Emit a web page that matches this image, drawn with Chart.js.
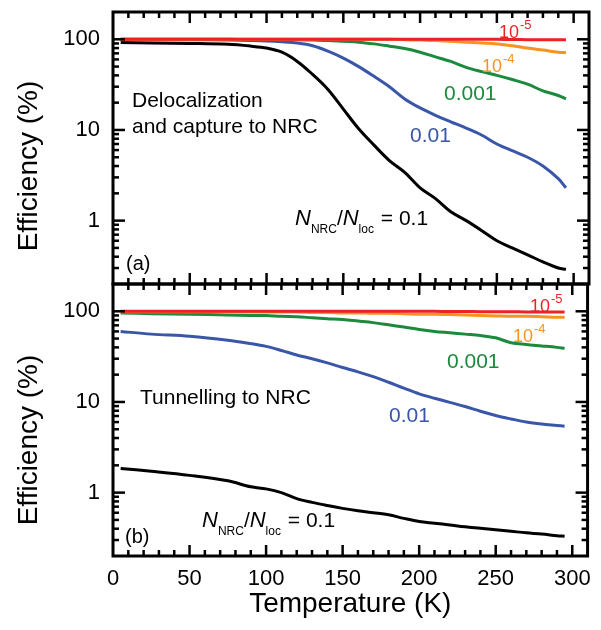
<!DOCTYPE html>
<html>
<head>
<meta charset="utf-8">
<script src="https://cdn.jsdelivr.net/npm/chart.js@4.4.1/dist/chart.umd.min.js"></script>
<style>
  body { margin: 0; background: #fff; }
  #wrap { position: relative; width: 601px; height: 630px; }
  #wrap canvas { position: absolute; left: 0; top: 0; }
</style>
</head>
<body>
<div id="wrap">
  <canvas id="chartA" width="601" height="630"></canvas>
  <canvas id="chartB" width="601" height="630"></canvas>
</div>
<script>
const FONT = '"Liberation Sans", Arial, sans-serif';

// temperature (K), shared by every curve
const temperature = [5, 25, 50, 75, 90, 100, 110, 120, 130, 140, 150, 160, 170, 180, 190, 200, 210, 220, 230, 240, 250, 260, 270, 280, 290, 295];

// (a) delocalization and capture to NRC, efficiency in %
const captureR5 = [100, 100, 100, 100, 100, 100, 100, 100, 100, 100, 100, 100, 100, 100, 100, 100, 100, 100, 100, 100, 100, 99.5, 99, 99, 99, 99];
const captureR4 = [100, 100, 100, 100, 100, 100, 100, 100, 100, 100, 100, 100, 100, 100, 99, 98, 97, 95, 93, 91, 89, 85, 80, 76, 72, 71];
const captureR3 = [100, 100, 100, 100, 99.5, 99.5, 99, 99, 98, 97, 95, 93, 89, 84, 79, 72, 64, 57, 49, 44, 40, 36, 32, 27, 24, 22];
const captureR2 = [99, 99, 99, 98, 97, 96, 94, 91, 85, 74, 62, 50, 39, 30, 22, 17.5, 14.5, 12.3, 10.5, 8.8, 7, 5.9, 5, 4, 2.9, 2.3];
const captureR1 = [92, 91, 90, 88, 84, 80, 72, 57, 41, 28, 17, 10.3, 6.8, 4.6, 3.4, 2.3, 1.75, 1.25, 1, 0.78, 0.6, 0.5, 0.42, 0.35, 0.3, 0.29];

// (b) tunnelling to NRC, efficiency in %
const tunnelR5 = [100, 100, 100, 100, 100, 100, 100, 100, 100, 100, 100, 100, 100, 100, 100, 100, 100, 99.5, 99.5, 99, 99, 99, 98.5, 98, 98, 98];
const tunnelR4 = [99, 99, 99, 99, 98, 98, 98, 98, 97, 97, 96, 96, 95, 95, 94, 93, 93, 92, 91, 90, 89, 88, 88, 87, 86, 86];
const tunnelR3 = [96, 94, 93, 91, 90, 90, 88, 87, 85, 83, 81, 78, 75, 71, 67, 63, 60, 58, 56, 54, 51, 45, 43, 41.5, 40, 39];
const tunnelR2 = [60, 56, 53, 48, 44, 41, 37, 33, 30, 27, 24, 21.5, 19, 16.5, 14.2, 12.3, 11, 9.9, 8.9, 7.9, 7.1, 6.5, 6, 5.7, 5.5, 5.4];
const tunnelR1 = [1.85, 1.72, 1.55, 1.35, 1.16, 1.1, 1, 0.86, 0.78, 0.72, 0.67, 0.63, 0.6, 0.57, 0.52, 0.48, 0.46, 0.44, 0.42, 0.405, 0.39, 0.375, 0.36, 0.35, 0.335, 0.33];

const ratioNames = ['1e-5', '1e-4', '0.001', '0.01', '0.1'];
const lineColors = ['#ec2227', '#f7931e', '#1c8a3c', '#3a56a8', '#000000'];
const yLabels = [1, 10, 100];
const xLabels = [0, 50, 100, 150, 200, 250, 300];

function makeSets(series) {
  return series.map((vals, i) => ({
    label: ratioNames[i],
    data: temperature.map((t, j) => ({x: t, y: vals[j]})),
    borderColor: lineColors[i],
    borderWidth: 3,
    pointRadius: 0,
    tension: 0.35,
    fill: false
  }));
}

function line(ctx, x1, y1, x2, y2) {
  ctx.beginPath();
  ctx.moveTo(x1, y1);
  ctx.lineTo(x2, y2);
  ctx.stroke();
}

// frame with inward ticks on all four sides
const frameTicks = {
  id: 'frameTicks',
  afterDatasetsDraw(chart) {
    const {ctx, chartArea: a} = chart;
    const x = chart.scales.x, y = chart.scales.y;
    ctx.save();
    ctx.strokeStyle = '#000';
    ctx.lineWidth = 2.5;
    for (let t = 10; t < 310; t += 10) {
      const px = x.getPixelForValue(t);
      const len = t % 50 === 0 ? 11 : 6;
      line(ctx, px, a.top, px, a.top + len);
      line(ctx, px, a.bottom, px, a.bottom - len);
    }
    for (let e = -1; e <= 2; e++) {
      for (let m = 1; m <= 9; m++) {
        const v = m * Math.pow(10, e);
        if (v <= 0.2 || v >= 200) continue;
        const py = y.getPixelForValue(v);
        const len = m === 1 ? 12 : 6;
        line(ctx, a.left, py, a.left + len, py);
        line(ctx, a.right, py, a.right - len, py);
      }
    }
    ctx.lineWidth = 3;
    ctx.strokeRect(a.left, a.top, a.right - a.left, a.bottom - a.top);
    ctx.restore();
  }
};

function txt(ctx, s, x, y, size, color, style) {
  ctx.font = (style || '') + ' ' + size + 'px ' + FONT;
  ctx.fillStyle = color;
  ctx.fillText(s, x, y);
  return ctx.measureText(s).width;
}

function power(ctx, x, y, exp, color) {
  const w = txt(ctx, '10', x, y, 18, color);
  txt(ctx, exp, x + w + 1, y - 9, 13, color);
}

function ratioLabel(ctx, x, y) {
  let cx = x;
  cx += txt(ctx, 'N', cx, y, 22, '#000', 'italic');
  cx += txt(ctx, 'NRC', cx, y + 8, 12, '#000');
  cx += txt(ctx, '/', cx, y, 21, '#000');
  cx += txt(ctx, 'N', cx, y, 22, '#000', 'italic');
  cx += txt(ctx, 'loc', cx, y + 8, 12, '#000');
  txt(ctx, ' = 0.1', cx + 1, y, 21, '#000');
}

function yTitle(ctx, cy) {
  ctx.save();
  ctx.translate(29, cy);
  ctx.rotate(-Math.PI / 2);
  ctx.textAlign = 'center';
  ctx.textBaseline = 'middle';
  ctx.font = '28px ' + FONT;
  ctx.fillStyle = '#000';
  ctx.fillText('Efficiency (%)', 0, 0);
  ctx.restore();
}

const notesA = {
  id: 'notesA',
  afterDraw(chart) {
    const ctx = chart.ctx;
    ctx.save();
    ctx.textAlign = 'left';
    ctx.textBaseline = 'alphabetic';
    power(ctx, 499, 38, '-5', lineColors[0]);
    power(ctx, 482, 72, '-4', lineColors[1]);
    txt(ctx, '0.001', 444, 100, 21, lineColors[2]);
    txt(ctx, '0.01', 410, 142, 21, lineColors[3]);
    txt(ctx, 'Delocalization', 132, 107, 21, '#000');
    txt(ctx, 'and capture to NRC', 132, 133, 21, '#000');
    ratioLabel(ctx, 295, 225);
    txt(ctx, '(a)', 126, 270, 20, '#000');
    yTitle(ctx, 166);
    ctx.restore();
  }
};

const notesB = {
  id: 'notesB',
  afterDraw(chart) {
    const ctx = chart.ctx;
    ctx.save();
    ctx.textAlign = 'left';
    ctx.textBaseline = 'alphabetic';
    power(ctx, 530, 312, '-5', lineColors[0]);
    power(ctx, 513, 342, '-4', lineColors[1]);
    txt(ctx, '0.001', 447, 368, 21, lineColors[2]);
    txt(ctx, '0.01', 389, 422, 21, lineColors[3]);
    txt(ctx, 'Tunnelling to NRC', 140, 404, 21, '#000');
    ratioLabel(ctx, 202, 527);
    txt(ctx, '(b)', 125, 543, 20, '#000');
    yTitle(ctx, 440);
    ctx.restore();
  }
};

function makeOptions(isBottom) {
  return {
    responsive: false,
    maintainAspectRatio: false,
    animation: false,
    layout: {
      padding: isBottom ? {left: 0, right: 12, top: 284, bottom: 0}
                        : {left: 0, right: 12, top: 12, bottom: 346}
    },
    plugins: {legend: {display: false}, tooltip: {enabled: false}},
    scales: {
      x: {
        type: 'linear', min: 0, max: 310,
        display: isBottom,
        grid: {display: false, drawTicks: false},
        border: {display: false},
        afterBuildTicks: s => { s.ticks = xLabels.map(v => ({value: v})); },
        afterFit: s => { s.height = isBottom ? 74 : 0; },
        ticks: {autoSkip: false, maxRotation: 0, padding: 10, color: '#000',
                font: {family: FONT, size: 22}},
        title: {display: true, text: 'Temperature (K)', color: '#000',
                font: {family: FONT, size: 28}, padding: {top: 0, bottom: 9}}
      },
      y: {
        type: 'logarithmic', min: 0.2, max: 200,
        grid: {display: false, drawTicks: false},
        border: {display: false},
        afterFit: s => { s.width = 113; s.paddingTop = 0; s.paddingBottom = 0; },
        ticks: {autoSkip: false, padding: 13, color: '#000', font: {family: FONT, size: 22},
                callback: v => (yLabels.includes(v) ? String(v) : '')}
      }
    }
  };
}

new Chart(document.getElementById('chartA'), {
  type: 'line',
  data: {datasets: makeSets([captureR5, captureR4, captureR3, captureR2, captureR1])},
  options: makeOptions(false),
  plugins: [frameTicks, notesA]
});

new Chart(document.getElementById('chartB'), {
  type: 'line',
  data: {datasets: makeSets([tunnelR5, tunnelR4, tunnelR3, tunnelR2, tunnelR1])},
  options: makeOptions(true),
  plugins: [frameTicks, notesB]
});
</script>
</body>
</html>
